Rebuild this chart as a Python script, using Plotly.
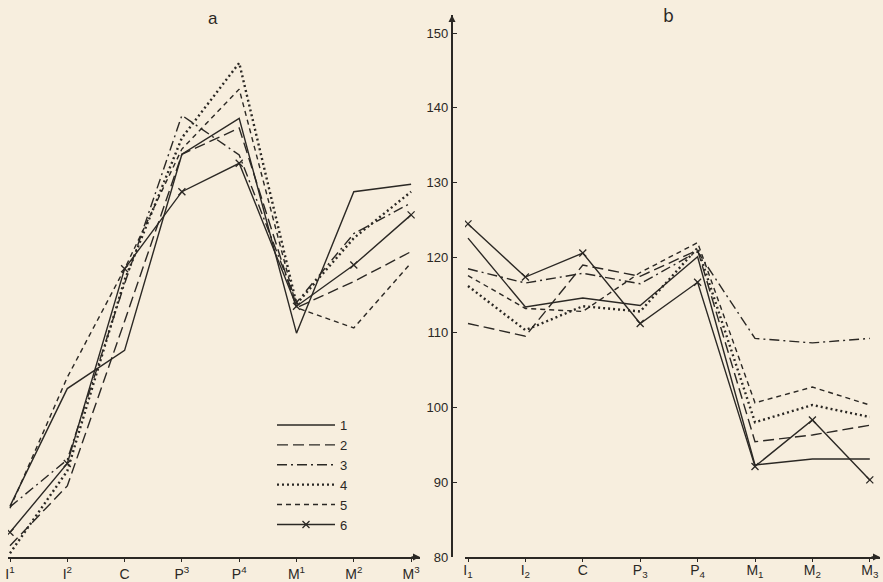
import plotly.graph_objects as go

# ---------------- data ----------------
teeth_upper = ["I<sup>1</sup>", "I<sup>2</sup>", "C", "P<sup>3</sup>", "P<sup>4</sup>",
               "M<sup>1</sup>", "M<sup>2</sup>", "M<sup>3</sup>"]
teeth_lower = ["I<sub>1</sub>", "I<sub>2</sub>", "C", "P<sub>3</sub>", "P<sub>4</sub>",
               "M<sub>1</sub>", "M<sub>2</sub>", "M<sub>3</sub>"]
series_names = ["1", "2", "3", "4", "5", "6"]

# panel a (upper teeth)
a1 = [86.8, 102.5, 107.6, 133.8, 138.6, 109.9, 128.8, 129.8]
a2 = [81.5, 89.5, 111.5, 133.8, 137.3, 113.3, 116.8, 120.8]
a3 = [86.7, 93.0, 116.5, 139.0, 133.7, 114.0, 123.2, 127.3]
a4 = [80.5, 91.5, 117.0, 136.0, 146.0, 113.8, 122.6, 128.8]
a5 = [86.5, 104.0, 118.5, 134.5, 142.5, 113.3, 110.6, 119.3]
a6 = [83.3, 92.5, 118.5, 128.8, 132.6, 113.5, 119.0, 125.7]

# panel b (lower teeth)
b1 = [122.6, 113.4, 114.6, 113.6, 120.1, 92.3, 93.1, 93.1]
b2 = [111.2, 109.5, 119.0, 117.5, 121.0, 95.4, 96.3, 97.6]
b3 = [118.5, 116.6, 117.9, 116.5, 120.8, 109.2, 108.6, 109.2]
b4 = [116.2, 110.3, 113.5, 112.8, 121.3, 98.0, 100.3, 98.7]
b5 = [117.6, 113.2, 112.8, 118.0, 122.0, 100.6, 102.7, 100.3]
b6 = [124.5, 117.4, 120.6, 111.2, 116.7, 92.1, 98.3, 90.3]

y_ticks = [80, 90, 100, 110, 120, 130, 140, 150]

# ---------------- styles ----------------
W, H = 883, 582
INK = "#2b2824"
BG = "#F7EEDE"
styles = [
    dict(dash="solid", width=1.4),
    dict(dash="11px,5px", width=1.4),
    dict(dash="10px,4px,2px,4px", width=1.4),
    dict(dash="2px,3px", width=2.4),
    dict(dash="5px,4px", width=1.4),
    dict(dash="solid", width=1.4),
]

def px_x(p):
    return p / W

def px_y(p):
    return (H - p) / H

fig = go.Figure()
xs = list(range(len(teeth_upper)))
panel_a = [a1, a2, a3, a4, a5, a6]
panel_b = [b1, b2, b3, b4, b5, b6]

for i, (name, ya, yb) in enumerate(zip(series_names, panel_a, panel_b)):
    st = styles[i]
    mode = "lines+markers" if i == 5 else "lines"
    mk = dict(symbol="x-thin", size=7, line=dict(width=1.3, color=INK), color=INK)
    fig.add_trace(go.Scatter(x=xs, y=ya, name=name, mode=mode,
                             line=dict(color=INK, width=st["width"], dash=st["dash"]),
                             marker=mk, xaxis="x", yaxis="y", legendgroup=name,
                             showlegend=True))
    fig.add_trace(go.Scatter(x=xs, y=yb, name=name, mode=mode,
                             line=dict(color=INK, width=st["width"], dash=st["dash"]),
                             marker=mk, xaxis="x2", yaxis="y", legendgroup=name,
                             showlegend=False))

# y mapping: 80 at py=557, 150 at py=33
ppu = (557 - 33) / 70.0
y_top_px = 15
y_top_val = 80 + (557 - y_top_px) / ppu

# x mapping
a_left, a_right, a_I1, a_step = 8, 420, 10, 57.3
b_left, b_right, b_I1, b_step = 465, 880, 468, 57.4

FONT = "Liberation Sans, Arial, sans-serif"
tickfont = dict(family=FONT, size=14, color=INK)

fig.update_layout(
    width=W, height=H,
    margin=dict(l=0, r=0, t=0, b=0),
    paper_bgcolor=BG, plot_bgcolor=BG,
    font=dict(family=FONT, color=INK),
    xaxis=dict(domain=[px_x(a_left), px_x(a_right)],
               range=[(a_left - a_I1) / a_step, (a_right - a_I1) / a_step],
               tickvals=xs, ticktext=teeth_upper, tickfont=tickfont,
               showline=True, linecolor=INK, linewidth=1.6,
               ticks="outside", ticklen=3, tickcolor=INK,
               showgrid=False, zeroline=False, anchor="y", automargin=False),
    xaxis2=dict(domain=[px_x(b_left), px_x(b_right)],
                range=[(b_left - b_I1) / b_step, (b_right - b_I1) / b_step],
                tickvals=xs, ticktext=teeth_lower, tickfont=tickfont,
                ticklabelstandoff=-4,
                showline=True, linecolor=INK, linewidth=1.6,
                ticks="outside", ticklen=3, tickcolor=INK,
                showgrid=False, zeroline=False, anchor="y", automargin=False),
    yaxis=dict(domain=[px_y(557), px_y(y_top_px)], range=[80, y_top_val],
               tickvals=y_ticks, tickfont=dict(family=FONT, size=13, color=INK),
               showline=True, linecolor=INK, linewidth=2.2,
               ticks="inside", ticklen=4, tickcolor=INK,
               showgrid=False, zeroline=False,
               anchor="free", position=px_x(452), automargin=False),
    showlegend=True,
    legend=dict(x=px_x(272), y=px_y(410), xanchor="left", yanchor="top",
                bgcolor="rgba(0,0,0,0)", borderwidth=0,
                font=dict(family=FONT, size=13, color=INK),
                tracegroupgap=0, itemwidth=58),
)

# panel titles
fig.add_annotation(text="a", x=px_x(213), y=px_y(18), xref="paper", yref="paper",
                   xanchor="center", yanchor="middle",
                   showarrow=False, font=dict(size=17, color=INK))
fig.add_annotation(text="b", x=px_x(668), y=px_y(16), xref="paper", yref="paper",
                   xanchor="center", yanchor="middle",
                   showarrow=False, font=dict(size=17, color=INK, family="DejaVu Sans"))

# axis arrows
fig.add_annotation(x=(a_right - a_I1) / a_step, y=80, xref="x", yref="y", ax=-10, ay=0,
                   showarrow=True, arrowhead=2, arrowsize=1, arrowwidth=1.4,
                   arrowcolor=INK, text="")
fig.add_annotation(x=(b_right - b_I1) / b_step, y=80, xref="x2", yref="y", ax=-10, ay=0,
                   showarrow=True, arrowhead=2, arrowsize=1, arrowwidth=1.4,
                   arrowcolor=INK, text="")
fig.add_annotation(x=px_x(452), y=y_top_val, xref="paper", yref="y", ax=0, ay=10,
                   showarrow=True, arrowhead=2, arrowsize=1, arrowwidth=1.4,
                   arrowcolor=INK, text="")

fig.write_html("out.html",
               config={"displayModeBar": False},
               post_script="document.body.style.margin='0';"
                           "document.body.style.background='" + BG + "';")
